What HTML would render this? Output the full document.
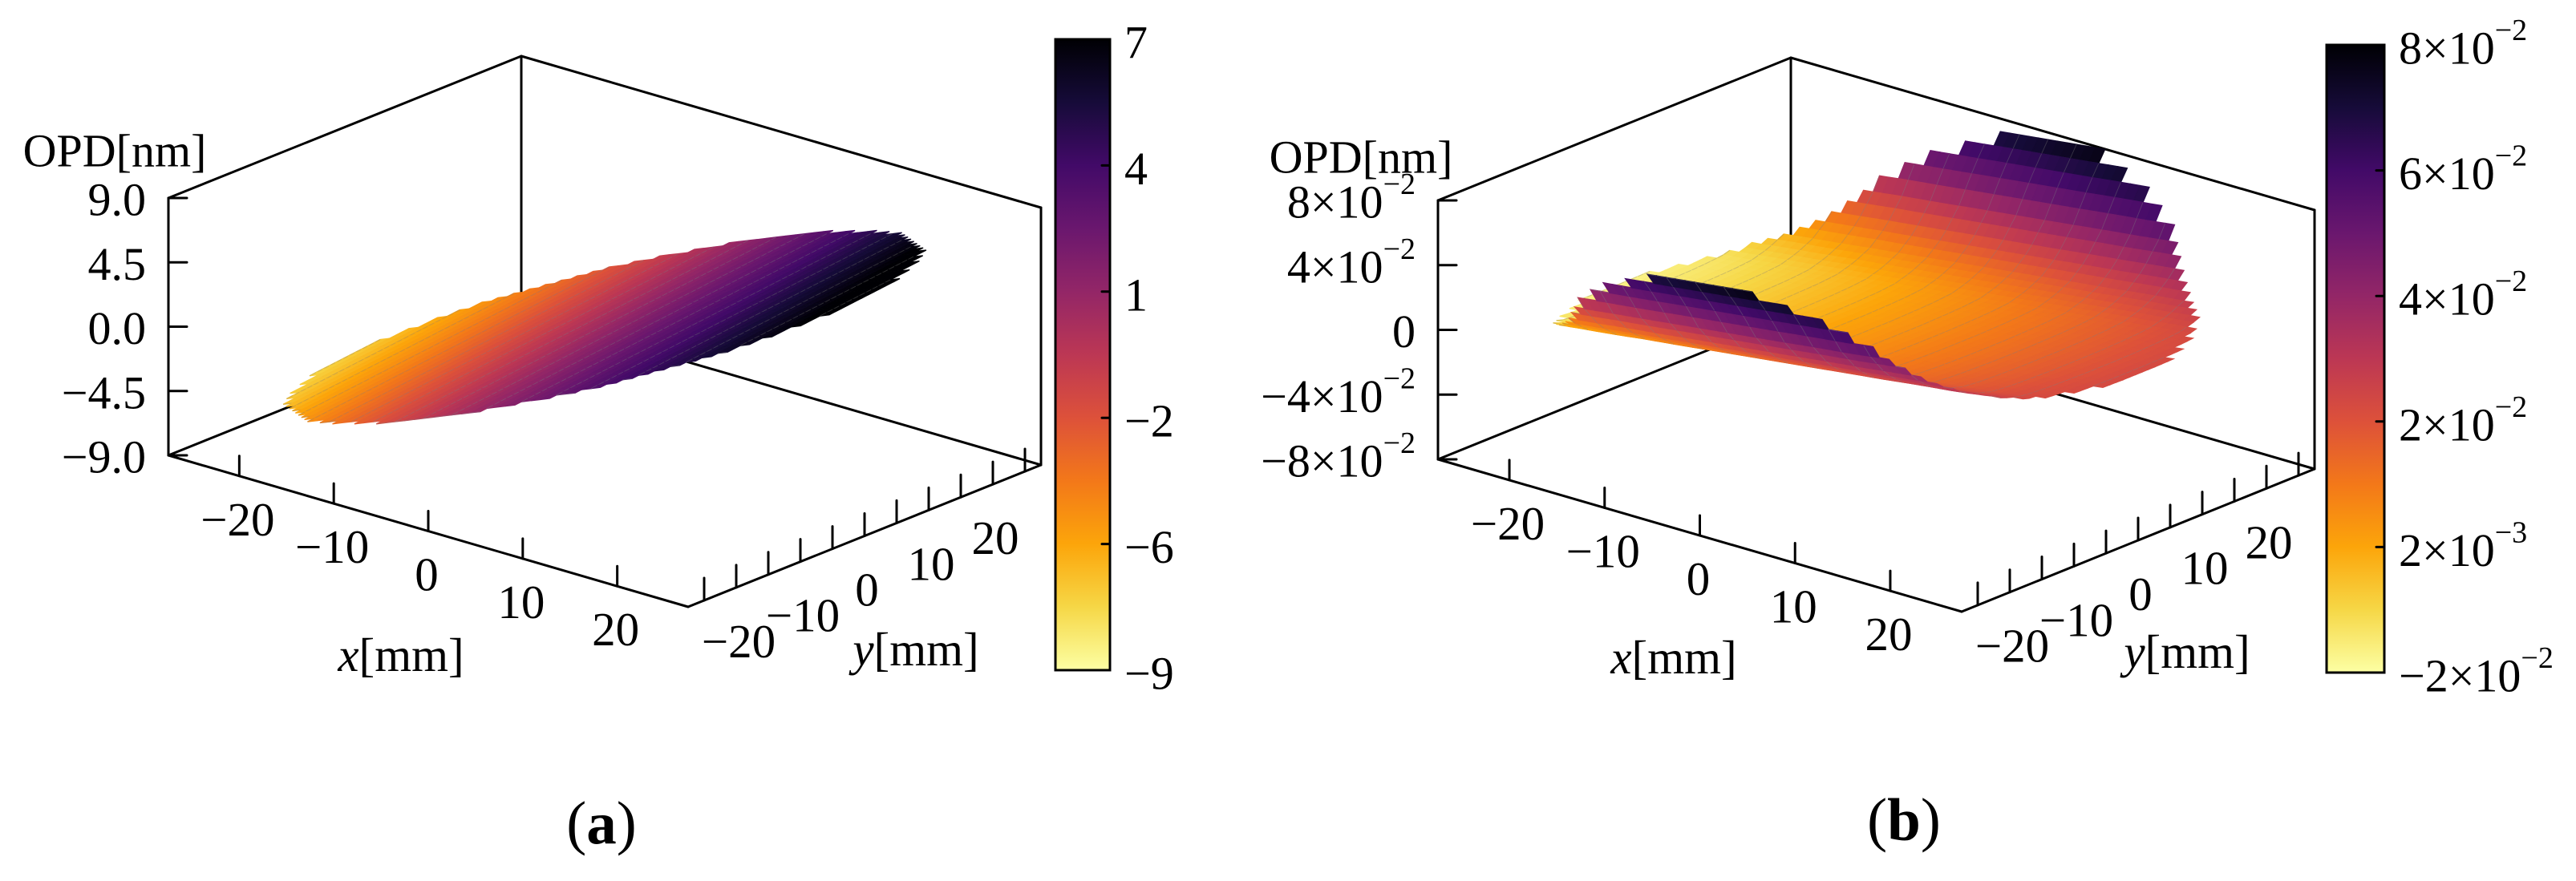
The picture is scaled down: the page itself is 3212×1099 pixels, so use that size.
<!DOCTYPE html>
<html><head><meta charset="utf-8"><style>
html,body{margin:0;padding:0;background:#fff;}
svg{display:block;font-family:"Liberation Serif","DejaVu Serif",serif;}
text{font-family:"Liberation Serif","DejaVu Serif",serif;}
</style></head>
<body>
<svg id="fig" width="3212" height="1099" viewBox="0 0 3212 1099">
<defs>
<linearGradient id="cmap" x1="0" y1="1" x2="0" y2="0">
<stop offset="0" stop-color="#fcffa4"/><stop offset="0.1" stop-color="#f6d746"/>
<stop offset="0.2" stop-color="#fca50a"/><stop offset="0.3" stop-color="#f37819"/>
<stop offset="0.4" stop-color="#dd513a"/><stop offset="0.5" stop-color="#bc3754"/>
<stop offset="0.6" stop-color="#932667"/><stop offset="0.7" stop-color="#6a176e"/>
<stop offset="0.8" stop-color="#420a68"/><stop offset="0.9" stop-color="#160b39"/>
<stop offset="1" stop-color="#000004"/>
</linearGradient>
</defs>
<rect x="0" y="0" width="3212" height="1099" fill="#fff"/>
<g id="panelA"></g>
<g id="panelB"></g>
<text x="750" y="1027" font-size="75" font-family="Liberation Serif, serif" text-anchor="middle" dominant-baseline="central">(<tspan font-weight="bold">a</tspan>)</text>
<text x="2374" y="1023" font-size="75" font-family="Liberation Serif, serif" text-anchor="middle" dominant-baseline="central">(<tspan font-weight="bold">b</tspan>)</text>
</svg>
<script>
// ---- data ----
const gridVals = [-27.5,-25,-22.5,-20,-17.5,-15,-12.5,-10,-7.5,-5,-2.5,0,2.5,5,7.5,10,12.5,15,17.5,20,22.5,25,27.5];
// panel a: OPD = aFx[x] + aGy[y]
const aFx = [-7.13,-6.45,-5.78,-5.1,-4.43,-3.75,-3.08,-2.4,-1.73,-1.05,-0.38,0.3,0.98,1.65,2.33,3.0,3.68,4.35,5.03,5.7,6.38,7.05,7.73];
const aGy = [-1.375,-1.25,-1.125,-1.0,-0.875,-0.75,-0.625,-0.5,-0.375,-0.25,-0.125,0,0.125,0.25,0.375,0.5,0.625,0.75,0.875,1.0,1.125,1.25,1.375];
// panel b: OPD = bGx[x] + bFy[y]
const bGx = [-0.020,-0.018,-0.0165,-0.0145,-0.0128,-0.011,-0.009,-0.0073,-0.0055,-0.0036,-0.0018,0,0.0018,0.0036,0.0055,0.0073,0.009,0.011,0.0128,0.0145,0.0165,0.018,0.020];
const bFy = [0.076,0.058,0.037,0.022,0.013,0.008,0.005,0.004,0.0035,0.0032,0.003,0.003,0.003,0.0032,0.0035,0.004,0.005,0.008,0.013,0.022,0.037,0.058,0.076];
const xTickVals = [-20,-10,0,10,20];
const xTickLabels = ['\u221220','\u221210','0','10','20'];
const yTickVals = [-25,-20,-15,-10,-5,0,5,10,15,20,25];
const yLabelVals = [-20,-10,0,10,20];
const yTickLabels = ['\u221220','\u221210','0','10','20'];
const aZTicks = [9,4.5,0,-4.5,-9];
const aZLabels = ['9.0','4.5','0.0','\u22124.5','\u22129.0'];
const bZTicks = [0.08,0.04,0,-0.04,-0.08];
const bZLabels = ['8\u00d710<tspan dy="-22" font-size="38">\u22122</tspan>','4\u00d710<tspan dy="-22" font-size="38">\u22122</tspan>','0','\u22124\u00d710<tspan dy="-22" font-size="38">\u22122</tspan>','\u22128\u00d710<tspan dy="-22" font-size="38">\u22122</tspan>'];
const aCbarLabels = ['7','4','1','\u22122','\u22126','\u22129'];
const bCbarLabels = ['8\u00d710<tspan dy="-22" font-size="38">\u22122</tspan>','6\u00d710<tspan dy="-22" font-size="38">\u22122</tspan>','4\u00d710<tspan dy="-22" font-size="38">\u22122</tspan>','2\u00d710<tspan dy="-22" font-size="38">\u22122</tspan>','2\u00d710<tspan dy="-22" font-size="38">\u22123</tspan>','\u22122\u00d710<tspan dy="-22" font-size="38">\u22122</tspan>'];

const NS = 'http://www.w3.org/2000/svg';
const FONT = '"Liberation Serif", "DejaVu Serif", serif';
const stops = ['#fcffa4','#f6d746','#fca50a','#f37819','#dd513a','#bc3754','#932667','#6a176e','#420a68','#160b39','#000004'];
function hex(c){return [parseInt(c.slice(1,3),16),parseInt(c.slice(3,5),16),parseInt(c.slice(5,7),16)];}
function cmap(t){t=Math.max(0,Math.min(1,t));const f=t*10;const i=Math.min(9,Math.floor(f));const r=f-i;const a=hex(stops[i]),b=hex(stops[i+1]);
 return 'rgb('+a.map((v,k)=>Math.round(v+(b[k]-v)*r)).join(',')+')';}
function interp(arr, v){
  const s = (v - gridVals[0]) / 2.5;
  const i = Math.max(0, Math.min(gridVals.length-2, Math.floor(s)));
  const r = s - i;
  return arr[i] + (arr[i+1]-arr[i])*r;
}
function mk(tag, attrs, name, parent){
  const el = document.createElementNS(NS, tag);
  for (const k in attrs) el.setAttribute(k, attrs[k]);
  
  
  parent.appendChild(el);
  return el;
}

function drawPanel(g, P, fxArr, gyArr, zTicks, zLabels, cbarLabels){
  const R = 27.5, min = -27.5;
  const proj = (x,y,z)=>[P.O[0]+(x-min)*P.ex[0]+(y-min)*P.ey[0], P.O[1]+(x-min)*P.ex[1]+(y-min)*P.ey[1]-(z-P.zmin)*P.ezs];
  const line = (a,b,name)=>mk('line',{x1:a[0],y1:a[1],x2:b[0],y2:b[1],stroke:'#000','stroke-width':3,'stroke-linecap':'round'},name,g);
  const txt = (x,y,anchor,size,html,name)=>{
    const t = mk('text',{x:x,y:y,'font-size':size,'font-family':FONT,'text-anchor':anchor,'dominant-baseline':'central'},name,g);
    t.innerHTML = html; return t;
  };
  const zmin=P.zmin, zmax=P.zmax;
  line(proj(min,min,zmin),proj(min,min,zmax),'z-axis-line');
  line(proj(min,min,zmax),proj(min,R,zmax),'box-top-left-edge');
  line(proj(min,R,zmax),proj(R,R,zmax),'box-top-right-edge');
  line(proj(min,R,zmin),proj(min,R,zmax),'box-back-vertical-edge');
  line(proj(R,R,zmin),proj(R,R,zmax),'box-right-vertical-edge');
  line(proj(min,min,zmin),proj(min,R,zmin),'box-back-left-floor-edge');
  line(proj(min,R,zmin),proj(R,R,zmin),'box-back-right-floor-edge');
  line(proj(min,min,zmin),proj(R,min,zmin),'x-axis-line');
  line(proj(R,min,zmin),proj(R,R,zmin),'y-axis-line');
  zTicks.forEach((v,i)=>{
    const p = proj(min,min,v);
    line(p,[p[0]+23,p[1]],'z-tick');
    txt(p[0]-28,p[1]+2,'end',58,zLabels[i],'z-tick-label');
  });
  xTickVals.forEach((v,i)=>{
    const p = proj(v,min,zmin);
    line(p,[p[0],p[1]-25],'x-tick');
    txt(p[0]-2,p[1]+54,'middle',59,xTickLabels[i],'x-tick-label');
  });
  yTickVals.forEach(v=>{
    const p = proj(R,v,zmin);
    line(p,[p[0],p[1]-28],'y-tick');
  });
  yLabelVals.forEach((v,i)=>{
    const p = proj(R,v,zmin);
    txt(p[0]+3,p[1]+67,'middle',59,yTickLabels[i],'y-tick-label');
  });
  txt(P.opd[0],P.opd[1],'middle',58,'OPD[nm]','z-axis-title');
  txt(P.xt[0],P.xt[1],'middle',59,'<tspan font-style="italic">x</tspan>[mm]','x-axis-title');
  txt(P.yt[0],P.yt[1],'middle',59,'<tspan font-style="italic">y</tspan>[mm]','y-axis-title');
  // surface (fine render mesh, linearly interpolating the data arrays)
  const step = 1.0;
  const nodes = [];
  for (let v=min; v<=R+1e-6; v+=step) nodes.push(v);
  const n = nodes.length;
  const fxs = nodes.map(v=>interp(fxArr,v)), gys = nodes.map(v=>interp(gyArr,v));
  const cells = [];
  for(let i=0;i<n-1;i++) for(let j=0;j<n-1;j++){
    const xc=(nodes[i]+nodes[i+1])/2, yc=(nodes[j]+nodes[j+1])/2;
    if (Math.hypot(xc,yc) > R) continue;
    cells.push({i,j,d: xc*3.44 - yc*3.22});
  }
  cells.sort((a,b)=>a.d-b.d);
  const sg = mk('g',{},'surface',g);
  cells.forEach(c=>{
    const {i,j}=c;
    const zs=[[i,j],[i+1,j],[i+1,j+1],[i,j+1]].map(([a,b])=>fxs[a]+gys[b]);
    const pts=[[i,j],[i+1,j],[i+1,j+1],[i,j+1]].map(([a,b],k)=>proj(nodes[a],nodes[b],zs[k]));
    const zavg=(zs[0]+zs[1]+zs[2]+zs[3])/4;
    const col=cmap((zavg-P.cmin)/(P.cmax-P.cmin));
    mk('polygon',{points:pts.map(p=>p[0].toFixed(1)+','+p[1].toFixed(1)).join(' '),fill:col,stroke:col,'stroke-width':1.3},'surface-cell',sg);
    if (i%3===0) mk('line',{x1:pts[0][0].toFixed(1),y1:pts[0][1].toFixed(1),x2:pts[3][0].toFixed(1),y2:pts[3][1].toFixed(1),stroke:'rgba(130,130,130,0.35)','stroke-width':1},'surface-mesh-line',sg);
    if (j%3===0) mk('line',{x1:pts[0][0].toFixed(1),y1:pts[0][1].toFixed(1),x2:pts[1][0].toFixed(1),y2:pts[1][1].toFixed(1),stroke:'rgba(130,130,130,0.35)','stroke-width':1},'surface-mesh-line',sg);
  });
  const cb = P.cb;
  mk('rect',{x:cb[0],y:cb[1],width:cb[2]-cb[0],height:cb[3]-cb[1],fill:'url(#cmap)',stroke:'#000','stroke-width':3},'colorbar',g);
  cbarLabels.forEach((lab,k)=>{
    const y = cb[1] + (cb[3]-cb[1])*k/(cbarLabels.length-1);
    line([cb[2]-10,y],[cb[2],y],'colorbar-tick');
    txt(cb[2]+18,y+4,'start',58,lab,'colorbar-tick-label');
  });
}

drawPanel(document.getElementById('panelA'),
  {O:[210,568],ex:[648/55,189/55],ey:[440/55,-177/55],zmin:-9,zmax:9,ezs:321/18,cmin:-9,cmax:7,
   opd:[143,188],xt:[500,817],yt:[1142,810],cb:[1316,49,1384,836]},
  aFx,aGy,aZTicks,aZLabels,aCbarLabels);
drawPanel(document.getElementById('panelB'),
  {O:[1793,573],ex:[653/55,190/55],ey:[440/55,-178/55],zmin:-0.08,zmax:0.08,ezs:323/0.16,cmin:-0.02,cmax:0.08,
   opd:[1697,196],xt:[2087,820],yt:[2727,813],cb:[2901,56,2973,839]},
  bGx,bFy,bZTicks,bZLabels,bCbarLabels);
</script>
</body></html>
